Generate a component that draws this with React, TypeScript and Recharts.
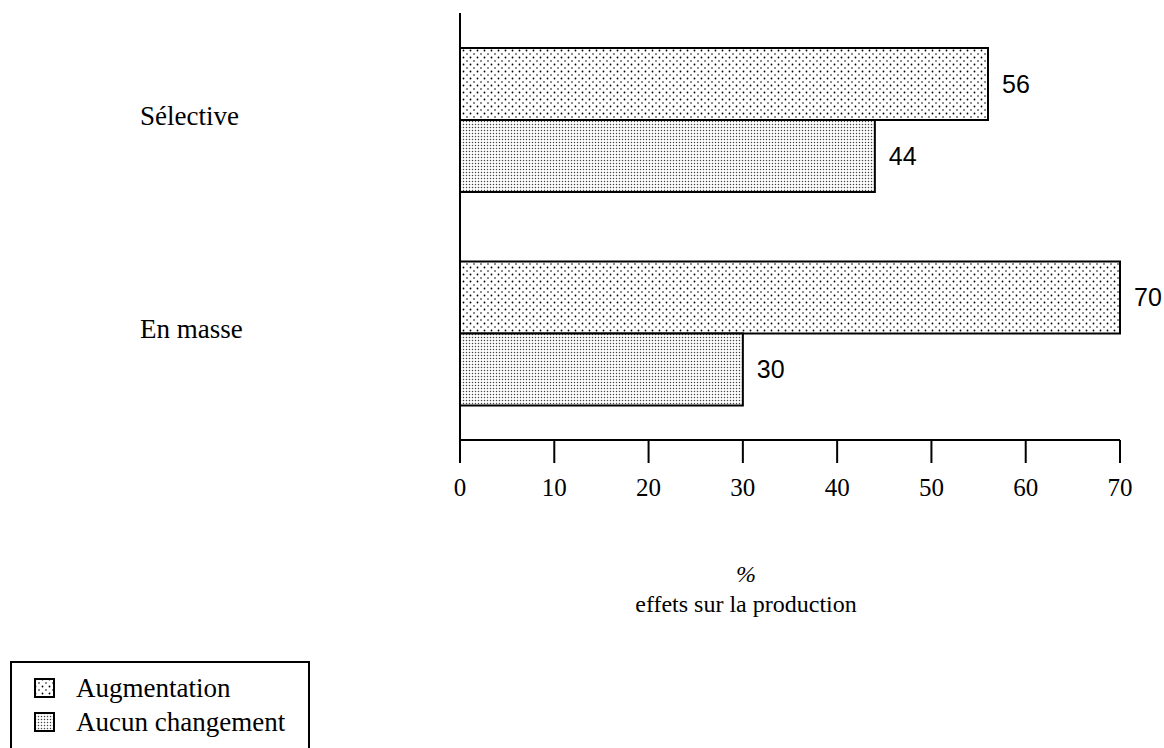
import { BarChart, Bar, XAxis, YAxis, LabelList, Legend } from 'recharts'

const categories = ['Sélective', 'En masse']
const augmentation = [56, 70]
const aucunChangement = [44, 30]
const xTicks = [0, 10, 20, 30, 40, 50, 60, 70]

const seriesNames = { aug: 'Augmentation', aucun: 'Aucun changement' }

const data = categories.map((name, i) => ({
  name,
  aug: augmentation[i],
  aucun: aucunChangement[i],
}))

const serif = '"Liberation Serif", "Times New Roman", serif'

const CategoryTick = (props: any) => {
  const { y, payload } = props
  return (
    <text x={140} y={y - 4} textAnchor="start" dominantBaseline="central" fontSize={27} fontFamily={serif} fill="#000">
      {payload.value}
    </text>
  )
}

const AxisTitle = (props: any) => {
  const { viewBox } = props
  const cx = viewBox.x + viewBox.width / 2 - 44
  return (
    <g fontFamily={serif} fill="#000">
      <text x={cx} y={viewBox.y + 142} textAnchor="middle" fontSize={24} fontStyle="italic">%</text>
      <text x={cx} y={viewBox.y + 172} textAnchor="middle" fontSize={24}>effets sur la production</text>
    </g>
  )
}

const LegendBox = () => (
  <div
    style={{
      width: 300,
      height: 100,
      border: '2px solid #000',
      boxSizing: 'border-box',
      fontFamily: serif,
      fontSize: 27,
      color: '#000',
      paddingTop: 8,
    }}
  >
    {[
      { name: seriesNames.aug, fill: 'url(#dotsSparse)' },
      { name: seriesNames.aucun, fill: 'url(#dotsDense)' },
    ].map((item) => (
      <div key={item.name} style={{ display: 'flex', alignItems: 'center', height: 34, paddingLeft: 22 }}>
        <svg width={22} height={20} style={{ marginRight: 20 }}>
          <rect x={1} y={1} width={19} height={18} fill={item.fill} stroke="#000" strokeWidth={2} />
        </svg>
        <span>{item.name}</span>
      </div>
    ))}
  </div>
)

export default function App() {
  return (
    <div style={{ position: 'absolute', left: 0, top: 0, width: 1164, height: 748, background: '#fff', overflow: 'hidden' }}>
      <BarChart
        width={1164}
        height={748}
        data={data}
        layout="vertical"
        margin={{ top: 13, right: 44, bottom: 148, left: 0 }}
        barCategoryGap={35}
        barGap={0}
      >
        <defs>
          <pattern id="dotsSparse" width={7} height={7} patternUnits="userSpaceOnUse">
            <rect width={7} height={7} fill="#fff" />
            <circle cx={1.5} cy={1.5} r={0.9} fill="#000" />
            <circle cx={5} cy={5} r={0.8} fill="#000" />
          </pattern>
          <pattern id="dotsDense" width={3} height={3} patternUnits="userSpaceOnUse">
            <rect width={3} height={3} fill="#fff" />
            <circle cx={1.5} cy={1.5} r={0.75} fill="#444" />
          </pattern>
        </defs>
        <XAxis
          type="number"
          domain={[0, 70]}
          ticks={xTicks}
          interval={0}
          height={60}
          tickSize={23}
          tickMargin={15}
          axisLine={{ stroke: '#000', strokeWidth: 2 }}
          tickLine={{ stroke: '#000', strokeWidth: 2 }}
          tick={{ fill: '#000', fontSize: 25, fontFamily: serif }}
          label={<AxisTitle />}
        />
        <YAxis
          type="category"
          dataKey="name"
          width={460}
          tickLine={false}
          axisLine={{ stroke: '#000', strokeWidth: 2 }}
          tick={<CategoryTick />}
        />
        <Legend
          content={<LegendBox />}
          wrapperStyle={{ position: 'absolute', left: 10, top: 661, width: 300 }}
        />
        <Bar dataKey="aug" name={seriesNames.aug} fill="url(#dotsSparse)" stroke="#000" strokeWidth={2} isAnimationActive={false}>
          <LabelList dataKey="aug" position="right" offset={14} fill="#000" fontSize={25} fontFamily='"Liberation Sans", sans-serif' />
        </Bar>
        <Bar dataKey="aucun" name={seriesNames.aucun} fill="url(#dotsDense)" stroke="#000" strokeWidth={2} isAnimationActive={false}>
          <LabelList dataKey="aucun" position="right" offset={14} fill="#000" fontSize={25} fontFamily='"Liberation Sans", sans-serif' />
        </Bar>
      </BarChart>
    </div>
  )
}
